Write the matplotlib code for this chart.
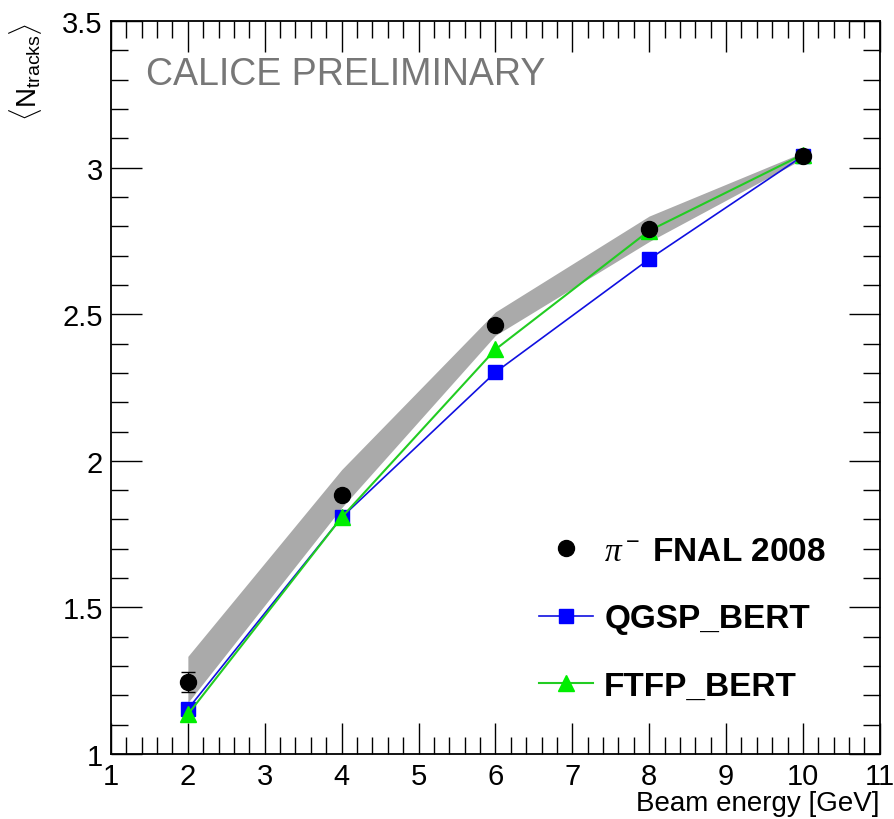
import matplotlib
matplotlib.use("Agg")
import matplotlib.pyplot as plt
from matplotlib.ticker import MultipleLocator, FormatStrFormatter
from matplotlib.lines import Line2D

plt.rcParams['font.family'] = ['Liberation Sans', 'DejaVu Sans']
plt.rcParams['mathtext.fontset'] = 'custom'
plt.rcParams['mathtext.rm'] = 'Liberation Sans'
plt.rcParams['mathtext.it'] = 'Liberation Serif:italic'

# beam energies [GeV]
energy = [2, 4, 6, 8, 10]

# data pi- FNAL 2008
data_y = [1.245, 1.882, 2.465, 2.79, 3.04]
data_err = [0.034, 0.0, 0.0, 0.0, 0.0]
# systematic band
band_lo = [1.175, 1.84, 2.428, 2.748, 3.03]
band_hi = [1.333, 1.97, 2.508, 2.835, 3.052]

# simulations
qgsp_y = [1.153, 1.807, 2.302, 2.688, 3.04]
ftfp_y = [1.135, 1.807, 2.38, 2.785, 3.045]

fig = plt.figure(figsize=(8.95, 8.2), dpi=100)
ax = fig.add_axes([0.124, 0.0793, 0.859, 0.8937])

ax.fill_between(energy, band_lo, band_hi, color='#aaaaaa', lw=0, zorder=1)
ax.plot(energy, qgsp_y, color='#1010e0', lw=1.2, marker='s', ms=10,
        mfc='#0000ff', mec='#0000ff', zorder=3)
ax.plot(energy, ftfp_y, color='#22cc22', lw=1.5, marker='^', ms=11,
        mfc='#00ee00', mec='#00ee00', zorder=4)
ax.errorbar(energy, data_y, yerr=data_err, fmt='o', color='black', ms=11.5,
            elinewidth=1, capsize=5, capthick=1, zorder=5)

ax.set_xlim(1, 11)
ax.set_ylim(1, 3.5)
ax.xaxis.set_major_locator(MultipleLocator(1))
ax.xaxis.set_minor_locator(MultipleLocator(0.2))
ax.yaxis.set_major_locator(MultipleLocator(0.5))
ax.yaxis.set_minor_locator(MultipleLocator(0.1))
ax.yaxis.set_major_formatter(FormatStrFormatter('%g'))
ax.tick_params(which='both', direction='in', top=True, right=True,
               labelsize=21, width=1)
ax.tick_params(which='major', length=22)
ax.tick_params(which='minor', length=12)
ax.tick_params(axis='x', pad=6)
ax.tick_params(axis='y', pad=6)
for s in ax.spines.values():
    s.set_linewidth(1.3)

ax.set_xlabel('Beam energy [GeV]', fontsize=20, loc='right', labelpad=0)
fig.text(0.028, 0.972, r'$\langle\mathrm{N}_{\mathrm{tracks}}\rangle$',
         rotation=90, ha='center', va='top', fontsize=20)

ax.text(0.045, 0.928, 'CALICE PRELIMINARY', transform=ax.transAxes,
        fontsize=27, color='#777777', ha='left', va='center')

handles = [
    Line2D([], [], ls='none', marker='o', color='black', ms=11.5),
    Line2D([], [], color='#1010e0', lw=1.2, marker='s', ms=10,
           mfc='#0000ff', mec='#0000ff'),
    Line2D([], [], color='#22cc22', lw=1.5, marker='^', ms=11,
           mfc='#00ee00', mec='#00ee00'),
]
labels = [r'$\it{\pi}^{\rm -}$ FNAL 2008', 'QGSP_BERT', 'FTFP_BERT']
leg = ax.legend(handles, labels, loc='lower left',
                bbox_to_anchor=(0.518, 0.03), frameon=False,
                prop={'weight': 'bold', 'size': 24}, labelspacing=1.1,
                handlelength=1.6, handletextpad=0.35)

fig.savefig('out.png', dpi=100)
